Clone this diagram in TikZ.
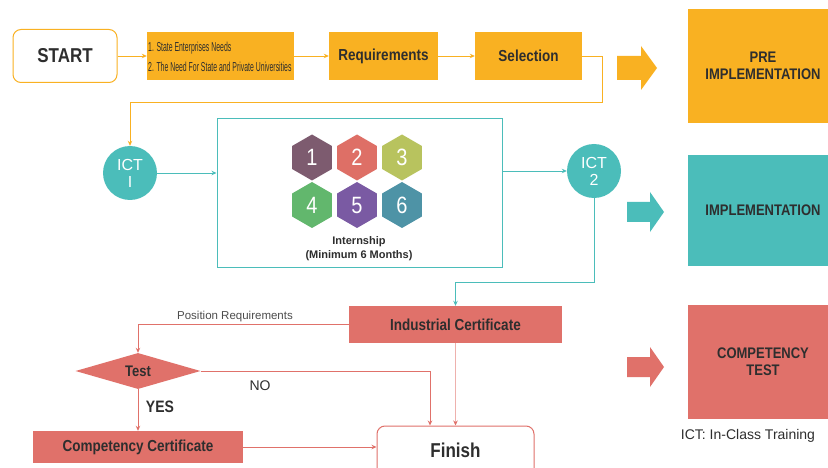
\documentclass[tikz,border=0pt]{standalone}
\usepackage{fontspec}
\usepackage{graphicx}
\setmainfont{Liberation Sans}
\usetikzlibrary{arrows.meta,shapes.geometric}
\definecolor{orng}{HTML}{F9B122}
\definecolor{tealc}{HTML}{4BBDBA}
\definecolor{salm}{HTML}{E0716A}
\definecolor{txt}{HTML}{2E2E2E}
\definecolor{hexA}{HTML}{7D5B6F}
\definecolor{hexB}{HTML}{DE6F66}
\definecolor{hexC}{HTML}{B8C35E}
\definecolor{hexD}{HTML}{62B76D}
\definecolor{hexE}{HTML}{7A5AA3}
\definecolor{hexF}{HTML}{4E93A6}
\newcommand{\vstr}[1]{\scalebox{1}[1.18]{#1}}
\begin{document}
\begin{tikzpicture}[x=1pt,y=-1pt,
  obox/.style={fill=orng, inner sep=0, text=txt, font=\fontsize{13.5}{15}\selectfont\bfseries},
  sbox/.style={fill=salm, inner sep=0, text=txt, font=\fontsize{13.5}{15}\selectfont\bfseries},
  bigbox/.style={inner sep=0, minimum width=150, text=txt, align=center, font=\fontsize{13}{17}\selectfont\bfseries},
  ictc/.style={circle, fill=tealc, minimum size=54, inner sep=0, text=white, align=center, font=\fontsize{16}{17}\selectfont},
  hexa/.style={regular polygon, regular polygon sides=6, shape border rotate=30, minimum size=46, inner sep=0, text=white, font=\fontsize{20}{20}\selectfont},
  oconn/.style={draw=orng, line width=0.8pt, -{Stealth[length=5pt,width=4.5pt]}},
  tconn/.style={draw=tealc, line width=0.8pt, -{Stealth[length=5pt,width=4.5pt]}},
  sconn/.style={draw=salm, line width=0.8pt, -{Stealth[length=5pt,width=4.5pt]}},
]
\useasboundingbox (0,0) rectangle (828,468);
\fill[white] (0,0) rectangle (828,468);

% top row
\node[draw=orng, line width=1pt, rounded corners=8pt, minimum width=104, minimum height=53, inner sep=0, text=txt, font=\fontsize{17}{17}\selectfont\bfseries] (start) at (65,56) {\vstr{START}};
\node[obox, minimum width=147, minimum height=48] (needs) at (220.5,56) {};
\node[anchor=west, inner sep=0, align=left, text=txt, font=\fontsize{10}{20}\selectfont] (needstxt) at (148,57) {\scalebox{0.69}[1.3]{1. State Enterprises Needs}\\\scalebox{0.69}[1.3]{2. The Need For State and Private Universities}};
\node[obox, minimum width=109, minimum height=48] (req) at (383.5,56) {\vstr{Requirements}};
\node[obox, minimum width=107, minimum height=48] (sel) at (528.5,56) {\vstr{Selection}};

\draw[oconn] (start) -- (needs);
\draw[oconn] (needs) -- (req);
\draw[oconn] (req) -- (sel);

\node[ictc] (ict1) at (130,173) {ICT\\I};
\coordinate (c1) at (602,102);
\draw[oconn] (sel.east) -| (c1) -| (ict1.north);

% internship
\node[draw=tealc, line width=1pt, minimum width=285, minimum height=148, inner sep=0] (intern) at (359.5,193) {};
\foreach \x/\y/\c/\n in {312/157.5/hexA/1, 357/157.5/hexB/2, 402/157.5/hexC/3, 312/205/hexD/4, 357/205/hexE/5, 402/205/hexF/6}
  \node[hexa, fill=\c] (h\n) at (\x,\y) {\vstr{\n}};
\node[align=center, text=txt, font=\fontsize{11}{14}\selectfont\bfseries] (internlbl) at (359,249) {Internship\\(Minimum 6 Months)};

\node[ictc] (ict2) at (594,171) {ICT\\2};
\draw[tconn] (ict1.east) -- (intern.west |- ict1.east);
\draw[tconn] (intern.east |- ict2.west) -- (ict2.west);

% lower part
\node[sbox, minimum width=213, minimum height=37] (indcert) at (455.5,324.5) {\vstr{Industrial Certificate}};
\coordinate (c2) at (594,282);
\draw[tconn] (ict2.south) -- (c2) -| (indcert.north);

\node[diamond, aspect=3.5, fill=salm, minimum width=125, minimum height=36, inner sep=0, text=txt, font=\fontsize{13}{13}\selectfont\bfseries] (test) at (138,371) {\vstr{Test}};
\draw[sconn] (indcert.west) -| (test.north);
\node[text=txt!85, font=\fontsize{11.5}{12}\selectfont] (poslbl) at (235,317) {Position Requirements};

\node[sbox, minimum width=210, minimum height=32] (cc) at (138,447) {\vstr{Competency Certificate}};
\node[draw=salm, line width=1pt, rounded corners=8pt, minimum width=157, minimum height=52, inner sep=0, text=txt, font=\fontsize{17}{17}\selectfont\bfseries] (finish) at (455.5,452) {\raisebox{4pt}{\vstr{Finish}}};

\draw[sconn] (test.east) -| ([xshift=-25.5pt]finish.north);
\node[text=txt, font=\fontsize{14}{14}\selectfont] (nolbl) at (260,386) {NO};
\draw[draw=salm!55, line width=0.8pt, -{Stealth[length=5pt,width=4.5pt,color=salm]}] (indcert.south) -- (finish.north);
\draw[sconn] (test.south) -- (cc.north);
\node[text=txt, font=\fontsize{14}{14}\selectfont\bfseries] (yeslbl) at (160,407) {\vstr{YES}};
\draw[sconn] (cc.east) -- (finish.west |- cc.east);

% block arrows
\fill[orng] (617,56) -- (641,56) -- (641,46) -- (657,68) -- (641,90) -- (641,80) -- (617,80) -- cycle;
\fill[tealc] (627,202) -- (650,202) -- (650,192) -- (664,212) -- (650,232) -- (650,222) -- (627,222) -- cycle;
\fill[salm] (627,357) -- (650,357) -- (650,347) -- (664,367) -- (650,387) -- (650,377) -- (627,377) -- cycle;

% right boxes
\node[bigbox, fill=orng, minimum height=114] (pre) at (763,66) {\vstr{PRE}\\\vstr{IMPLEMENTATION}};
\node[bigbox, fill=tealc, minimum height=111] (impl) at (763,210.5) {\vstr{IMPLEMENTATION}};
\node[bigbox, fill=salm, minimum height=114] (comp) at (763,362) {\vstr{COMPETENCY}\\\vstr{TEST}};
\node[text=txt, font=\fontsize{14}{14}\selectfont] (legend) at (748,436) {ICT: In-Class Training};
\end{tikzpicture}
\end{document}
